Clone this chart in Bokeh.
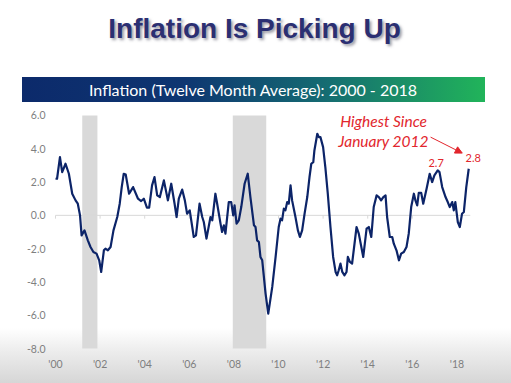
from bokeh.plotting import figure
from bokeh.layouts import column
from bokeh.models import Range1d, FixedTicker, Arrow, NormalHead, NumeralTickFormatter, Div
from bokeh.embed import file_html
from bokeh.resources import INLINE
from bokeh.core.properties import value

# ---------------- data ----------------
dates = [
    2000.00, 2000.07, 2000.20, 2000.30, 2000.45, 2000.60, 2000.75, 2000.90, 2001.00, 2001.10,
    2001.17, 2001.30, 2001.45, 2001.57, 2001.70, 2001.84, 2001.96, 2002.05, 2002.17, 2002.24,
    2002.35, 2002.47, 2002.60, 2002.77, 2002.88, 2002.97, 2003.06, 2003.15, 2003.30, 2003.48,
    2003.70, 2003.84, 2003.96, 2004.10, 2004.20, 2004.33, 2004.44, 2004.56, 2004.68, 2004.86,
    2005.04, 2005.19, 2005.34, 2005.43, 2005.53, 2005.68, 2005.80, 2005.90, 2006.02, 2006.20,
    2006.30, 2006.46, 2006.58, 2006.65, 2006.77, 2006.95, 2007.03, 2007.17, 2007.25, 2007.40,
    2007.47, 2007.55, 2007.62, 2007.77, 2007.88, 2007.97, 2008.03, 2008.12, 2008.22, 2008.33,
    2008.48, 2008.62, 2008.74, 2008.90, 2008.97, 2009.04, 2009.12, 2009.19, 2009.27, 2009.42,
    2009.54, 2009.72, 2009.87, 2010.01, 2010.09, 2010.16, 2010.24, 2010.31, 2010.39, 2010.46,
    2010.54, 2010.61, 2010.76, 2010.87, 2010.96, 2011.06, 2011.17, 2011.29, 2011.39, 2011.47,
    2011.56, 2011.61, 2011.74, 2011.81, 2011.88, 2012.00, 2012.10, 2012.21, 2012.33, 2012.45,
    2012.56, 2012.63, 2012.70, 2012.78, 2012.86, 2012.96, 2013.05, 2013.11, 2013.20, 2013.30,
    2013.50, 2013.60, 2013.80, 2013.95, 2014.05, 2014.16, 2014.27, 2014.40, 2014.50, 2014.60,
    2014.70, 2014.80, 2014.87, 2014.99, 2015.10, 2015.17, 2015.29, 2015.40, 2015.50, 2015.62,
    2015.74, 2015.84, 2015.95, 2016.07, 2016.14, 2016.22, 2016.29, 2016.40, 2016.49, 2016.64,
    2016.78, 2016.89, 2016.99, 2017.14, 2017.22, 2017.34, 2017.49, 2017.59, 2017.68, 2017.79,
    2017.86, 2017.93, 2018.04, 2018.13, 2018.23, 2018.31, 2018.42, 2018.53,
]
inflation = [
    2.2, 2.2, 3.5, 2.6, 3.1, 2.5, 1.3, 0.9, 0.7, 0.0,
    -1.2, -0.9, -1.5, -1.9, -2.2, -2.3, -2.7, -3.4, -2.1, -2.0,
    -2.1, -1.9, -0.9, -0.1, 0.7, 1.7, 2.5, 2.45, 1.3, 1.7,
    1.0, 0.86, 1.0, 0.46, 0.46, 1.8, 2.3, 1.2, 1.1, 2.1,
    0.9, 1.9, 0.7, -0.1, 1.0, 1.55, 0.9, 0.1, 0.3, -1.3,
    -1.2, 0.7, -0.1, -0.4, -1.4, -0.1, -0.3, 1.3, 0.7, -0.5,
    -1.0, -0.6, -1.1, 0.8, 0.8, 0.0, 0.6, -0.5, -0.3, 0.5,
    1.9, 2.5, 1.1, -0.6, -0.7, -1.5, -1.6, -2.5, -2.7, -4.7,
    -5.9, -4.3, -2.5, -0.7, -0.2, -0.3, 0.4, 0.3, 0.8, 0.7,
    1.8, 0.9, -0.1, -0.9, -1.3, -0.9, 0.1, 1.1, 2.3, 3.1,
    3.2, 3.9, 4.9, 4.7, 4.7, 4.1, 2.9, 1.3, -0.7, -2.5,
    -3.4, -3.6, -3.3, -2.9, -3.4, -3.6, -3.4, -2.5, -2.8, -2.9,
    -0.7, -1.1, -2.5, -0.8, -0.7, -1.3, 0.5, 1.2, 1.1, 0.9,
    1.1, 1.2, -0.1, -1.3, -1.3, -1.7, -2.1, -2.7, -2.3, -2.2,
    -1.9, -1.1, 0.5, 1.3, 0.9, 0.6, 1.35, 1.35, 0.7, 1.6,
    2.5, 2.0, 2.4, 2.7, 2.6, 1.7, 1.1, 0.8, 0.5, 0.8,
    0.3, 0.8, -0.4, -0.7, 0.1, 0.2, 1.7, 2.8,
]
recession_start = [2001.2, 2007.95]
recession_end = [2001.88, 2009.45]
x_tick_years = [2000, 2002, 2004, 2006, 2008, 2010, 2012, 2014, 2016, 2018]
x_tick_labels = ["'00", "'02", "'04", "'06", "'08", "'10", "'12", "'14", "'16", "'18"]
y_ticks = [-8, -6, -4, -2, 0, 2, 4, 6]
zero_line_x = [2000.0, 2018.6]

title_text = "Inflation Is Picking Up"
banner_text = "Inflation (Twelve Month Average): 2000 - 2018"
note_lines = ["Highest Since", "January 2012"]
callouts = ["2.7", "2.8"]

RED = "#e2262d"
NAVY = "#0c2468"
FONT = "Lato"

W, H, HEAD = 511, 383, 108

# ---------------- header (HTML) ----------------
header_html = (
    f'<div style="position:relative;width:{W}px;height:{HEAD}px;">'
    '<div style="position:absolute;left:0;top:15px;width:509px;text-align:center;'
    "font-family:'Liberation Sans';font-weight:bold;font-size:28px;line-height:28px;"
    'color:#2b2f72;text-shadow:2px 2px 3px rgba(70,70,90,0.55);white-space:nowrap;">'
    f'{title_text}</div>'
    '<div style="position:absolute;left:21.5px;top:77.3px;width:463px;height:25px;'
    'background:linear-gradient(to right,#0c2a6b 0%,#0e3671 35%,#156b72 65%,#21b45a 100%);'
    "color:white;font-family:'Lato';font-size:16px;line-height:25px;text-align:center;"
    'white-space:nowrap;">'
    f'{banner_text}</div></div>'
)
header = Div(text=header_html, width=W, height=HEAD, margin=(0, 0, 0, 0))

# ---------------- main chart ----------------
p = figure(width=W, height=H - HEAD, x_range=Range1d(1999.776, 2020.448), y_range=Range1d(-8.42, 6.42),
           output_backend="svg", toolbar_location=None,
           min_border_left=50, min_border_right=0, min_border_top=0, min_border_bottom=28,
           margin=(0, 0, 0, 0))
p.grid.visible = False
p.outline_line_color = None
p.background_fill_color = None
p.border_fill_color = None

p.quad(left=recession_start, right=recession_end, bottom=[y_ticks[0]] * 2, top=[y_ticks[-1]] * 2,
       fill_color="#d9d9d9", line_color=None)
p.line(x=zero_line_x, y=[0, 0], line_color="#d9d9d9", line_width=1)
p.segment(x0=x_tick_years[:-1], y0=[0] * 9, x1=x_tick_years[:-1], y1=[-0.2] * 9,
          line_color="#d9d9d9", line_width=1)

p.line(x=dates, y=inflation, line_color=NAVY, line_width=2.2, line_join="round")

for ax in (p.xaxis[0], p.yaxis[0]):
    ax.axis_line_color = None
    ax.major_tick_line_color = None
    ax.minor_tick_line_color = None
    ax.major_tick_out = 0
    ax.major_tick_in = 0
    ax.minor_tick_out = 0
    ax.minor_tick_in = 0
    ax.major_label_text_color = "#7f7f7f"
    ax.major_label_text_font = FONT
    ax.major_label_text_font_size = "10.5px"

p.xaxis.ticker = FixedTicker(ticks=x_tick_years)
p.xaxis.major_label_overrides = dict(zip(x_tick_years, x_tick_labels))
p.xaxis.major_label_standoff = 2
p.yaxis.ticker = FixedTicker(ticks=y_ticks)
p.yaxis.formatter = NumeralTickFormatter(format="0.0")
p.yaxis.major_label_standoff = 5

# annotations
p.text(x=[2014.71, 2014.71], y=[5.65, 4.47], text=note_lines,
       text_align="center", text_baseline="middle", text_font=value(FONT),
       text_font_style="italic", text_font_size="15.5px", text_color=RED)
p.text(x=[2017.07, 2018.73], y=[3.17, 3.47], text=callouts,
       text_align="center", text_baseline="middle", text_font=value(FONT),
       text_font_size="11px", text_color=RED)
p.add_layout(Arrow(x_start=2016.82, y_start=4.7, x_end=2018.24, y_end=3.74,
                   line_color=RED, line_width=1,
                   end=NormalHead(size=7, fill_color=RED, line_color=RED)))

layout = column(header, p, spacing=0,
                styles={"background": "linear-gradient(to bottom, #ffffff 0px, #ffffff 328px, "
                                      "#ececec 352px, #d6d6d6 383px)"})

open("out.html", "w").write(file_html(layout, INLINE))
